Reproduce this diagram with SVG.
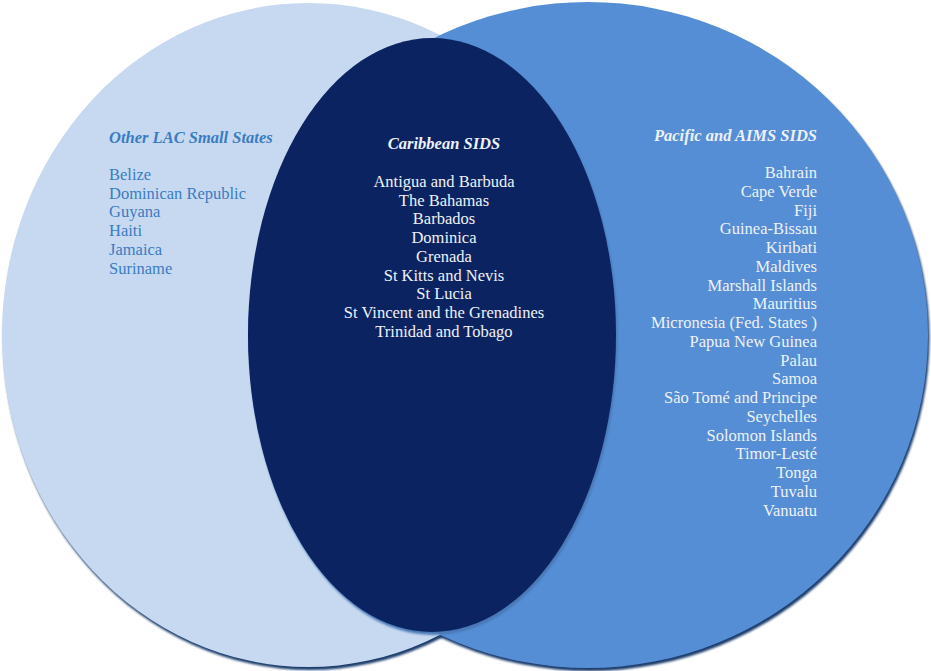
<svg xmlns="http://www.w3.org/2000/svg" width="931" height="671" viewBox="0 0 931 671">
<style>
  text { font-family: "Liberation Serif", "Times New Roman", serif; font-size: 16.5px; }
  .hdr { font-weight: bold; font-style: italic; }
  .lac { fill: #3a7cc2; }
  .wht { fill: #eef1f7; }
  .mid { text-anchor: middle; }
  .end { text-anchor: end; }
</style>
<defs>
  <filter id="soft" x="-5%" y="-5%" width="110%" height="110%">
    <feGaussianBlur stdDeviation="0.9"/>
  </filter>
</defs>
<rect width="931" height="671" fill="#ffffff"/>

<g id="shadows">
  <ellipse cx="310" cy="338" rx="306.5" ry="332" fill="#1e3d6d" filter="url(#soft)"/>
  <ellipse cx="589.5" cy="338" rx="340" ry="333" fill="#1e3d6d" filter="url(#soft)"/>
</g>

<g id="other-lac">
  <ellipse cx="308.5" cy="335" rx="306.5" ry="332" fill="#c6d9f0"/>
</g>

<g id="pacific-aims">
  <ellipse cx="588" cy="335" rx="340" ry="333" fill="#558ed5"/>
</g>

<g id="caribbean-sids">
  <ellipse cx="433.5" cy="338" rx="184" ry="297" fill="#4a78b6" filter="url(#soft)"/>
  <ellipse cx="432" cy="335" rx="184" ry="297" fill="#0b2461"/>
</g>

<g id="connectors"></g>

<g id="label-other-lac">
  <text class="hdr lac" x="109" y="143">Other LAC Small States</text>
  <text class="lac" x="109" y="180">Belize</text>
  <text class="lac" x="109" y="198.7">Dominican Republic</text>
  <text class="lac" x="109" y="217.4">Guyana</text>
  <text class="lac" x="109" y="236.1">Haiti</text>
  <text class="lac" x="109" y="254.8">Jamaica</text>
  <text class="lac" x="109" y="273.5">Suriname</text>
</g>

<g id="label-caribbean">
  <text class="hdr wht mid" x="444" y="149">Caribbean SIDS</text>
  <text class="wht mid" x="444" y="187">Antigua and Barbuda</text>
  <text class="wht mid" x="444" y="205.7">The Bahamas</text>
  <text class="wht mid" x="444" y="224.4">Barbados</text>
  <text class="wht mid" x="444" y="243.1">Dominica</text>
  <text class="wht mid" x="444" y="261.8">Grenada</text>
  <text class="wht mid" x="444" y="280.5">St Kitts and Nevis</text>
  <text class="wht mid" x="444" y="299.2">St Lucia</text>
  <text class="wht mid" x="444" y="317.9">St Vincent and the Grenadines</text>
  <text class="wht mid" x="444" y="336.6">Trinidad and Tobago</text>
</g>

<g id="label-pacific">
  <text class="hdr wht end" x="817" y="141">Pacific and AIMS SIDS</text>
  <text class="wht end" x="817" y="178">Bahrain</text>
  <text class="wht end" x="817" y="196.75">Cape Verde</text>
  <text class="wht end" x="817" y="215.5">Fiji</text>
  <text class="wht end" x="817" y="234.25">Guinea-Bissau</text>
  <text class="wht end" x="817" y="253">Kiribati</text>
  <text class="wht end" x="817" y="271.75">Maldives</text>
  <text class="wht end" x="817" y="290.5">Marshall Islands</text>
  <text class="wht end" x="817" y="309.25">Mauritius</text>
  <text class="wht end" x="817" y="328">Micronesia (Fed. States )</text>
  <text class="wht end" x="817" y="346.75">Papua New Guinea</text>
  <text class="wht end" x="817" y="365.5">Palau</text>
  <text class="wht end" x="817" y="384.25">Samoa</text>
  <text class="wht end" x="817" y="403">São Tomé and Principe</text>
  <text class="wht end" x="817" y="421.75">Seychelles</text>
  <text class="wht end" x="817" y="440.5">Solomon Islands</text>
  <text class="wht end" x="817" y="459.25">Timor-Lesté</text>
  <text class="wht end" x="817" y="478">Tonga</text>
  <text class="wht end" x="817" y="496.75">Tuvalu</text>
  <text class="wht end" x="817" y="515.5">Vanuatu</text>
</g>
</svg>
